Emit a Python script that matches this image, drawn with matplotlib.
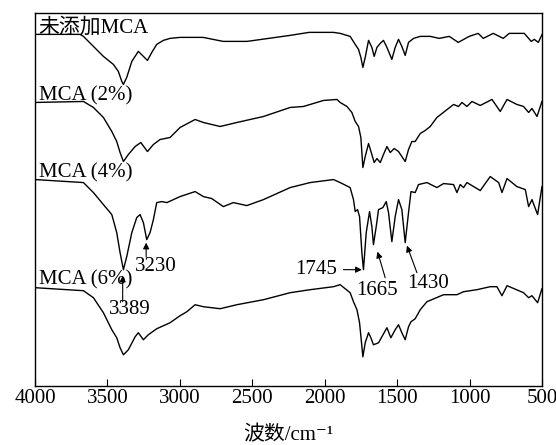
import matplotlib.pyplot as plt
import numpy as np

plt.rcParams['font.family'] = ['Liberation Serif', 'Noto Sans CJK SC', 'DejaVu Serif']

# spectra: wavenumber (cm-1) and offset transmittance (a.u.)
wn_0 = [4000, 3689, 3666, 3597, 3528, 3459, 3425, 3401, 3390, 3367, 3332, 3287, 3252,
        3224, 3194, 3160, 3114, 3068, 2999, 2840, 2702, 2536, 2239, 2108, 2009, 1940,
        1894, 1825, 1790, 1767, 1751, 1737, 1721, 1698, 1675, 1659, 1640, 1617, 1595,
        1571, 1537, 1514, 1491, 1468, 1445, 1422, 1387, 1341, 1272, 1210, 1141, 1079,
        1003, 941, 906, 837, 768, 727, 623, 575, 554, 526, 500]
t_0 = [351, 351, 349, 339, 329, 321, 314, 304, 301, 308, 324, 334, 329,
       325, 333, 341, 345, 347, 348, 348, 344, 344, 350, 353, 353, 353,
       352, 349, 341, 336, 328, 318, 328, 345, 338, 329, 338, 342, 345,
       338, 326, 338, 346, 339, 330, 343, 347, 349, 349, 347, 349, 343,
       349, 352, 347, 352, 347, 352, 352, 344, 346, 343, 351]

wn_2 = [4000, 3666, 3597, 3528, 3470, 3436, 3413, 3390, 3356, 3309, 3270, 3224, 3183,
        3137, 3068, 2999, 2895, 2838, 2722, 2607, 2423, 2239, 2147, 2009, 1916, 1894,
        1847, 1813, 1790, 1767, 1751, 1737, 1721, 1698, 1675, 1659, 1640, 1617, 1595,
        1571, 1548, 1521, 1491, 1445, 1422, 1399, 1376, 1341, 1307, 1272, 1226, 1111,
        1077, 1053, 1019, 984, 927, 846, 789, 742, 674, 628, 593, 570, 535, 501]
t_2 = [283, 284, 278, 268, 254, 244, 233, 224, 231, 239, 243, 234, 241,
       246, 248, 258, 266, 263, 259, 263, 269, 278, 279, 285, 286, 283,
       279, 273, 264, 259, 248, 218, 229, 242, 231, 223, 227, 223, 231,
       239, 233, 237, 234, 224, 236, 244, 244, 252, 255, 259, 268, 281,
       279, 283, 279, 284, 280, 286, 274, 286, 281, 279, 273, 277, 269, 284]

wn_4 = [4000, 3666, 3597, 3528, 3470, 3436, 3413, 3390, 3367, 3332, 3298, 3275, 3252,
        3229, 3206, 3183, 3160, 3125, 3090, 2999, 2895, 2838, 2780, 2700, 2631, 2538,
        2423, 2239, 2101, 1940, 1894, 1825, 1802, 1790, 1774, 1760, 1744, 1733, 1714,
        1691, 1675, 1664, 1645, 1629, 1599, 1576, 1560, 1537, 1514, 1491, 1468, 1445,
        1422, 1405, 1376, 1353, 1295, 1226, 1180, 1111, 1088, 1065, 1042, 1019, 927,
        858, 800, 777, 742, 674, 616, 593, 570, 531, 501]
t_4 = [206, 203, 193, 181, 171, 153, 133, 116, 129, 153, 168, 171, 163,
       146, 153, 166, 183, 184, 183, 189, 194, 189, 187, 179, 183, 180,
       186, 198, 203, 206, 203, 198, 186, 174, 176, 169, 133, 116, 153,
       174, 159, 141, 159, 176, 178, 184, 173, 144, 169, 186, 176, 143,
       173, 194, 193, 201, 203, 198, 202, 201, 193, 201, 198, 203, 195,
       209, 203, 193, 207, 199, 196, 179, 186, 171, 199]

wn_6 = [4000, 3666, 3597, 3528, 3470, 3436, 3413, 3390, 3356, 3309, 3287, 3252, 3218,
        3160, 3068, 2999, 2952, 2895, 2838, 2722, 2607, 2423, 2239, 2101, 1940, 1894,
        1825, 1802, 1778, 1760, 1737, 1721, 1698, 1682, 1664, 1629, 1606, 1571, 1544,
        1514, 1491, 1468, 1445, 1422, 1405, 1376, 1341, 1295, 1180, 1088, 1042, 950,
        858, 812, 777, 742, 628, 593, 570, 531, 501]
t_6 = [98, 95, 88, 73, 56, 48, 38, 31, 36, 49, 53, 46, 51,
       57, 63, 70, 74, 81, 79, 77, 81, 86, 93, 96, 99, 101,
       93, 84, 76, 63, 29, 43, 53, 48, 41, 43, 49, 58, 48,
       56, 61, 53, 46, 59, 64, 67, 76, 84, 91, 91, 94, 96,
       99, 99, 90, 100, 93, 88, 90, 83, 97]

labels = ['未添加MCA', 'MCA (2%)', 'MCA (4%)', 'MCA (6%)']
label_t = [353, 285, 208, 101]

fig = plt.figure(figsize=(5.56, 4.45), dpi=100)
ax = fig.add_axes([0.063, 0.133, 0.912, 0.837])

for wn, t in [(wn_0, t_0), (wn_2, t_2), (wn_4, t_4), (wn_6, t_6)]:
    ax.plot(wn, t, color='black', lw=1.0)

for lab, ty in zip(labels, label_t):
    ax.text(3975, ty, lab, fontsize=15, ha='left', va='baseline')

arrow = dict(arrowstyle='-|>', color='black', lw=0.8, mutation_scale=9,
             shrinkA=0, shrinkB=0)
# peak annotations on MCA (4%)
ax.annotate('', xy=(3395, 110), xytext=(3395, 84), arrowprops=arrow)
ax.text(3344, 76, '3389', fontsize=15, ha='center', va='center')
ax.annotate('', xy=(3233, 143), xytext=(3233, 129), arrowprops=arrow)
ax.text(3164, 119, '3230', fontsize=15, ha='center', va='center')
ax.annotate('', xy=(1744, 116), xytext=(1871, 116), arrowprops=arrow)
ax.text(1912, 116, '1745', fontsize=15, ha='right', va='center')
ax.annotate('', xy=(1636, 134), xytext=(1583, 108), arrowprops=arrow)
ax.text(1638, 95, '1665', fontsize=15, ha='center', va='center')
ax.annotate('', xy=(1433, 140), xytext=(1364, 113), arrowprops=arrow)
ax.text(1289, 102, '1430', fontsize=15, ha='center', va='center')

ax.set_xlim(4000, 500)
ax.set_ylim(0, 372)
ax.set_xticks([4000, 3500, 3000, 2500, 2000, 1500, 1000, 500])
ax.set_yticks([])
ax.tick_params(axis='x', direction='in', length=5, width=0.8, labelsize=15, pad=2)
for s in ax.spines.values():
    s.set_linewidth(1.0)
ax.set_xlabel('波数/cm⁻¹', fontsize=15, labelpad=13)

fig.savefig('out.png', dpi=100)
